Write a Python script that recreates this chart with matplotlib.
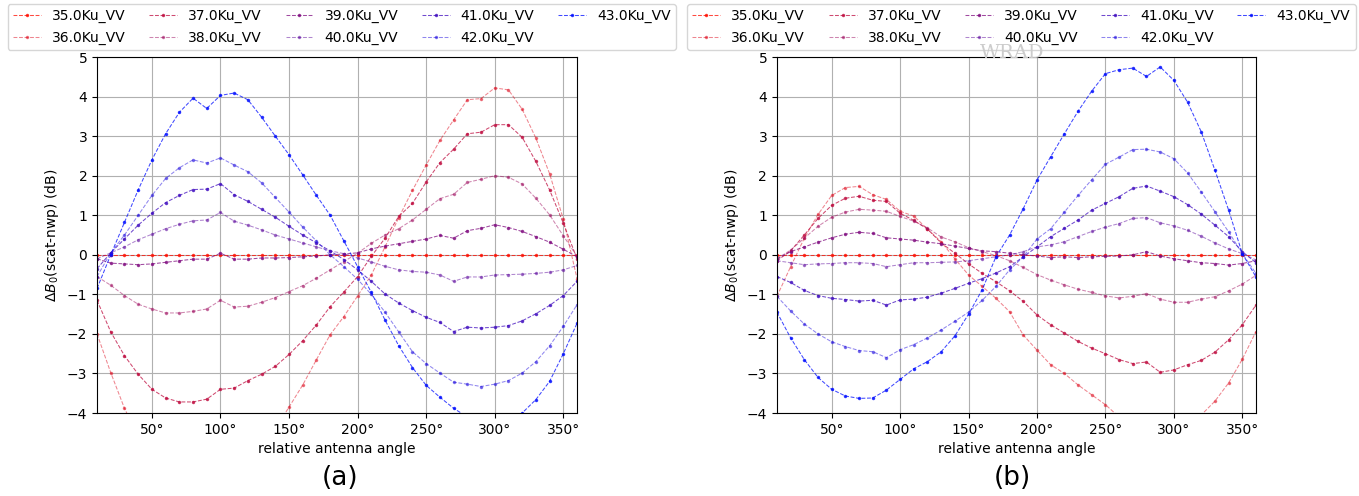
import numpy as np
import matplotlib.pyplot as plt

# relative antenna angle (deg)
angles = [10, 20, 30, 40, 50, 60, 70, 80, 90, 100, 110, 120, 130, 140, 150, 160, 170, 180,
          190, 200, 210, 220, 230, 240, 250, 260, 270, 280, 290, 300, 310, 320, 330, 340, 350, 360]

labels = ['35.0Ku_VV', '36.0Ku_VV', '37.0Ku_VV', '38.0Ku_VV', '39.0Ku_VV',
          '40.0Ku_VV', '41.0Ku_VV', '42.0Ku_VV', '43.0Ku_VV']

zero = [0.0, 0.0, 0.0, 0.0, 0.0, 0.0, 0.0, 0.0, 0.0, 0.0, 0.0, 0.0, 0.0, 0.0, 0.0, 0.0, 0.0, 0.0,
        0.0, 0.0, 0.0, 0.0, 0.0, 0.0, 0.0, 0.0, 0.0, 0.0, 0.0, 0.0, 0.0, 0.0, 0.0, 0.0, 0.0, 0.0]

# panel (a)
a36 = [-2.0, -2.98, -3.88, -4.6, -5.2, -5.6, -5.9, -6.0, -6.0, -5.85, -5.6, -5.3, -4.9, -4.4, -3.85, -3.29, -2.65, -2.02,
       -1.56, -1.04, -0.51, 0.2, 0.94, 1.63, 2.27, 2.89, 3.41, 3.92, 3.95, 4.22, 4.17, 3.68, 2.95, 2.05, 0.9, -0.6]
a37 = [-1.15, -1.95, -2.55, -3.02, -3.4, -3.62, -3.72, -3.72, -3.65, -3.4, -3.37, -3.18, -3.02, -2.82, -2.52, -2.17, -1.77, -1.31,
       -0.94, -0.55, -0.04, 0.42, 0.97, 1.3, 1.84, 2.33, 2.67, 3.06, 3.1, 3.29, 3.29, 2.97, 2.36, 1.64, 0.8, -0.1]
a38 = [-0.55, -0.77, -1.03, -1.25, -1.37, -1.47, -1.47, -1.43, -1.37, -1.15, -1.32, -1.3, -1.2, -1.08, -0.93, -0.78, -0.59, -0.38,
       -0.17, 0.04, 0.29, 0.5, 0.66, 0.88, 1.15, 1.42, 1.53, 1.83, 1.91, 2.0, 1.96, 1.79, 1.43, 1.01, 0.48, -0.04]
a39 = [-0.1, -0.21, -0.23, -0.25, -0.23, -0.19, -0.15, -0.11, -0.11, 0.04, -0.11, -0.11, -0.08, -0.08, -0.07, -0.05, -0.03, 0.0,
       0.02, 0.05, 0.15, 0.22, 0.28, 0.34, 0.4, 0.49, 0.42, 0.61, 0.67, 0.76, 0.69, 0.59, 0.46, 0.32, 0.14, -0.05]
a40 = [-0.1, 0.05, 0.2, 0.38, 0.52, 0.66, 0.77, 0.86, 0.88, 1.07, 0.85, 0.75, 0.63, 0.5, 0.4, 0.3, 0.2, 0.1,
       0.03, -0.08, -0.18, -0.29, -0.38, -0.42, -0.44, -0.51, -0.67, -0.56, -0.56, -0.51, -0.5, -0.49, -0.47, -0.44, -0.38, -0.27]
a41 = [-0.35, 0.05, 0.4, 0.75, 1.05, 1.32, 1.5, 1.65, 1.66, 1.8, 1.52, 1.35, 1.15, 0.95, 0.72, 0.5, 0.3, 0.1,
       -0.12, -0.38, -0.67, -0.99, -1.22, -1.41, -1.58, -1.71, -1.94, -1.83, -1.85, -1.83, -1.79, -1.67, -1.49, -1.28, -1.03, -0.67]
a42 = [-0.55, 0.05, 0.5, 1.0, 1.5, 1.93, 2.2, 2.4, 2.32, 2.45, 2.27, 2.1, 1.82, 1.45, 1.08, 0.7, 0.35, 0.0,
       -0.3, -0.62, -1.0, -1.45, -1.95, -2.45, -2.75, -2.99, -3.22, -3.27, -3.33, -3.27, -3.18, -2.99, -2.7, -2.3, -1.81, -1.26]
a43 = [-0.85, 0.0, 0.82, 1.64, 2.4, 3.06, 3.6, 3.96, 3.7, 4.03, 4.09, 3.92, 3.48, 3.0, 2.53, 2.02, 1.5, 1.0,
       0.35, -0.3, -0.95, -1.65, -2.3, -2.85, -3.3, -3.6, -3.88, -4.1, -4.3, -4.4, -4.3, -4.0, -3.66, -3.2, -2.5, -1.73]

# panel (b)
b36 = [-1.05, -0.3, 0.42, 1.02, 1.5, 1.7, 1.73, 1.52, 1.4, 1.1, 0.98, 0.65, 0.33, -0.1, -0.51, -0.8, -1.1, -1.44,
       -2.03, -2.41, -2.78, -3.0, -3.29, -3.54, -3.79, -4.1, -4.3, -4.45, -4.5, -4.4, -4.2, -4.05, -3.7, -3.24, -2.64, -1.94]
b37 = [-0.15, 0.1, 0.5, 0.92, 1.25, 1.43, 1.48, 1.38, 1.35, 1.05, 0.87, 0.65, 0.3, 0.04, -0.23, -0.47, -0.68, -0.91,
       -1.18, -1.52, -1.77, -1.98, -2.19, -2.36, -2.5, -2.65, -2.75, -2.71, -2.97, -2.91, -2.78, -2.67, -2.46, -2.15, -1.77, -1.27]
b38 = [-0.1, 0.12, 0.42, 0.72, 0.95, 1.08, 1.15, 1.13, 1.1, 0.97, 0.85, 0.68, 0.45, 0.33, 0.18, 0.08, -0.02, -0.15,
       -0.32, -0.5, -0.64, -0.76, -0.87, -0.95, -1.04, -1.09, -1.05, -0.98, -1.12, -1.2, -1.2, -1.12, -1.06, -0.91, -0.74, -0.52]
b39 = [-0.1, 0.08, 0.2, 0.32, 0.43, 0.52, 0.57, 0.54, 0.43, 0.4, 0.37, 0.32, 0.28, 0.22, 0.16, 0.1, 0.08, 0.04,
       0.0, -0.03, -0.07, -0.05, -0.07, -0.05, -0.04, -0.03, 0.0, 0.08, -0.03, -0.1, -0.15, -0.2, -0.22, -0.26, -0.22, -0.15]
b40 = [-0.15, -0.2, -0.25, -0.23, -0.22, -0.2, -0.2, -0.22, -0.3, -0.25, -0.2, -0.2, -0.19, -0.18, -0.15, -0.1, -0.05, 0.0,
       0.08, 0.2, 0.25, 0.33, 0.46, 0.59, 0.7, 0.79, 0.92, 0.94, 0.81, 0.73, 0.62, 0.47, 0.3, 0.15, 0.03, -0.13]
b41 = [-0.55, -0.7, -0.9, -1.03, -1.1, -1.13, -1.17, -1.15, -1.27, -1.14, -1.12, -1.07, -0.97, -0.85, -0.72, -0.6, -0.46, -0.3,
       -0.05, 0.2, 0.46, 0.67, 0.88, 1.13, 1.3, 1.47, 1.68, 1.74, 1.61, 1.47, 1.27, 1.03, 0.75, 0.46, 0.08, -0.2]
b42 = [-1.05, -1.42, -1.75, -2.0, -2.2, -2.32, -2.42, -2.45, -2.6, -2.4, -2.27, -2.1, -1.9, -1.68, -1.45, -1.15, -0.8, -0.38,
       -0.05, 0.4, 0.66, 1.08, 1.5, 1.9, 2.29, 2.47, 2.66, 2.67, 2.6, 2.43, 2.07, 1.59, 1.09, 0.58, 0.03, -0.47]
b43 = [-1.45, -2.1, -2.65, -3.1, -3.4, -3.57, -3.63, -3.62, -3.42, -3.15, -2.88, -2.7, -2.45, -2.05, -1.5, -0.88, -0.05, 0.5,
       1.17, 1.89, 2.48, 3.06, 3.63, 4.14, 4.58, 4.68, 4.72, 4.51, 4.75, 4.41, 3.86, 3.11, 2.14, 1.13, 0.03, -0.56]

series_a = [zero, a36, a37, a38, a39, a40, a41, a42, a43]
series_b = [zero, b36, b37, b38, b39, b40, b41, b42, b43]

xticks = [50, 100, 150, 200, 250, 300, 350]
xticklabels = ['50°', '100°', '150°', '200°', '250°', '300°', '350°']


def draw(ax, series):
    for i, (ys, lab) in enumerate(zip(series, labels)):
        t = i / 8.0
        # every second frequency comes out lighter in the original
        alpha = 0.5 if i % 2 == 1 else 0.75
        ax.plot(angles, ys, '.--', color=(1 - t, 0.05, t), alpha=alpha,
                lw=0.75, ms=3, label=lab)
    ax.set_xlim(10, 360)
    ax.set_ylim(-4, 5)
    ax.set_xticks(xticks)
    ax.set_xticklabels(xticklabels)
    ax.set_yticks(range(-4, 6))
    ax.grid(True)
    ax.set_xlabel('relative antenna angle')
    ax.set_ylabel(r'$\Delta B_0$(scat-nwp) (dB)')
    ax.legend(loc='lower center', bbox_to_anchor=(0.51, 1.0), ncol=5,
              fontsize=10, columnspacing=1.7)


fig = plt.figure(figsize=(13.59, 4.96), dpi=100)
ax1 = fig.add_axes([0.0714, 0.1673, 0.3532, 0.7177])
ax2 = fig.add_axes([0.5717, 0.1673, 0.3525, 0.7177])
draw(ax1, series_a)
draw(ax2, series_b)

fig.text(0.250, 0.036, '(a)', ha='center', va='center', fontsize=19)
fig.text(0.745, 0.036, '(b)', ha='center', va='center', fontsize=19)
# faint watermark visible in the source image, just under the legend
fig.text(0.745, 0.893, 'WRAD', ha='center', va='center', fontsize=14,
         color='0.8', family='DejaVu Serif', zorder=0)

fig.savefig('out.png', dpi=100)
